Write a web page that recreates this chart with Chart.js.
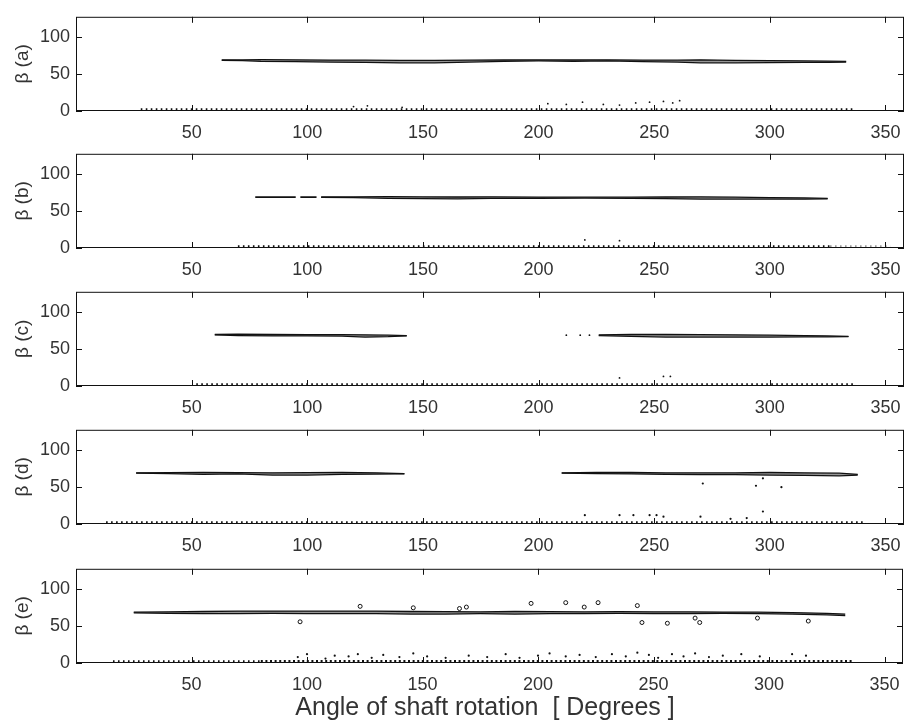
<!DOCTYPE html>
<html>
<head>
<meta charset="utf-8">
<script src="https://cdn.jsdelivr.net/npm/chart.js@4.4.1/dist/chart.umd.min.js"></script>
<style>
  body { margin: 0; background: #fff; }
  #wrap { position: relative; width: 908px; height: 728px; }
  #wrap canvas { position: absolute; left: 0; }
  #xTitle {
    position: absolute; left: 0; width: 970px; top: 692px;
    text-align: center; font: 25px "Liberation Sans", Arial, sans-serif; color: #333;
  }
</style>
</head>
<body>
<div id="wrap">
  <canvas id="pa" width="908" height="138" style="top:0px"></canvas>
  <canvas id="pb" width="908" height="138" style="top:137px"></canvas>
  <canvas id="pc" width="908" height="138" style="top:275px"></canvas>
  <canvas id="pd" width="908" height="138" style="top:413px"></canvas>
  <canvas id="pe" width="908" height="138" style="top:552px"></canvas>
  <div id="xTitle">Angle of shaft rotation&nbsp; [ Degrees ]</div>
</div>
<script>
// axis setup shared by all five panels
const xTicks = [50, 100, 150, 200, 250, 300, 350];
const yTicks = [0, 50, 100];
const xMax = 358;
const yMax = 128;

// panel (a)
const angA = [63, 72, 80, 95, 110, 125, 140, 155, 170, 185, 200, 215, 230, 245, 260, 270, 285, 300, 315, 325, 333];
const upA = [69.5, 69.5, 69.8, 69.5, 69.2, 69, 68.8, 68.8, 69, 69.3, 69.5, 69.3, 69.5, 69.2, 69, 69.5, 68.8, 68.5, 68, 67.8, 67.3];
const loA = [68.8, 68.5, 67.5, 67, 66.5, 66, 65.5, 65.5, 66.5, 67.5, 68, 67.5, 68, 67, 66.5, 65.5, 65.5, 65.8, 66, 66, 66.5];
const rippleA = [28, 336];
const dotsAx = [120, 126, 141, 204, 212, 219, 228, 235, 242, 248, 254, 258, 261];
const dotsAy = [6, 7, 5, 10, 9, 12, 9, 8, 11, 12, 13, 11, 14];

// panel (b)
const dashB = [[77.5, 95], [97, 104]];
const dashBy = 69;
const angB = [106, 120, 135, 150, 165, 180, 200, 220, 240, 255, 270, 285, 300, 315, 325];
const upB = [69.3, 69.5, 69.8, 69.5, 69.3, 69.5, 69.2, 69, 69, 69.3, 69.5, 69, 68.5, 68, 67.5];
const loB = [68.8, 68.5, 67.5, 67, 66.8, 67.5, 67.5, 67.8, 67.5, 67, 66.5, 66.5, 66.5, 66.3, 66.8];
const rippleB = [70, 326];
const tailB = [326, 352];
const dotsBx = [220, 235];
const dotsBy = [11, 10];

// panel (c)
const angC1 = [60, 70, 85, 100, 115, 125, 135, 143];
const upC1 = [70, 70.3, 70, 69.8, 69.8, 69.5, 69, 68.5];
const loC1 = [69.5, 68.5, 68, 68, 67.8, 66.5, 67, 68];
const angC2 = [226, 240, 255, 270, 285, 300, 315, 325, 334];
const upC2 = [69.5, 70, 70, 69.8, 69.5, 69, 68.5, 68, 67.5];
const loC2 = [68.5, 67.5, 66.5, 66.5, 66.5, 66.5, 66.8, 66.8, 67];
const rippleC = [52, 337];
const dotsCx = [212, 218, 222, 235, 254, 257];
const dotsCy = [69, 69, 69, 11, 13, 13];

// panel (d)
const angD1 = [26, 40, 55, 70, 85, 100, 115, 130, 142];
const upD1 = [69.5, 69.8, 70, 69.8, 69.5, 69.8, 70, 69.5, 68.5];
const loD1 = [69, 68.5, 67.5, 68, 66.5, 66.5, 67.5, 67.8, 68];
const angD2 = [210, 225, 240, 255, 270, 285, 300, 315, 330, 338];
const upD2 = [69.5, 70, 70, 69.5, 69.5, 69.5, 70, 69.5, 69, 67.5];
const loD2 = [69, 68.5, 68, 67.5, 67, 67, 66.5, 66, 65.5, 66.5];
const rippleD = [13, 341];
const dotsDx = [271, 294, 297, 305, 220, 235, 241, 248, 251, 254, 270, 283, 290, 297];
const dotsDy = [55, 52, 62, 50, 12, 12, 12, 12, 12, 10, 10, 7, 8, 17];

// panel (e)
const angE = [25, 40, 55, 70, 85, 100, 115, 130, 145, 160, 175, 190, 205, 220, 235, 250, 265, 280, 295, 310, 325, 333];
const upE = [69, 69.5, 70, 70.5, 70.5, 70.5, 70.5, 70.5, 70, 69.8, 69.5, 70, 69.8, 69.5, 69.8, 69.5, 69.5, 69.2, 69, 68.5, 67.5, 66.5];
const loE = [68, 67.5, 67, 67, 67.5, 67, 67, 67, 66.5, 66.5, 67, 66.5, 67, 67, 67.5, 67, 67, 67.3, 67, 66.5, 65.5, 64.5];
const rippleE1 = [16, 80];
const rippleE2 = [80, 336];
const islandEx = [123, 146, 166, 169, 197, 212, 220, 226, 243, 97, 245, 256, 268, 270, 295, 317];
const islandEy = [77, 75, 74, 76, 81, 82, 76, 82, 78, 56, 55, 54, 61, 55, 61, 57];
const dotsEx = [96, 100, 108, 112, 118, 122, 128, 133, 140, 146, 152, 160, 170, 178, 186, 192, 200, 205, 212, 218, 225, 232, 238, 243, 248, 252, 258, 263, 268, 274, 280, 288, 296, 310, 316];
const dotsEy = [8, 12, 6, 10, 9, 12, 7, 11, 8, 13, 9, 7, 10, 8, 12, 7, 10, 13, 9, 11, 8, 12, 9, 14, 11, 7, 12, 9, 13, 8, 10, 12, 9, 12, 10];

const FONT = '"Liberation Sans", Arial, sans-serif';
const INK = '#111';

const pts = (xs, ys) => xs.map((x, i) => ({ x, y: ys[i] }));

function band(angles, upper, lower) {
  return [
    { data: pts(angles, upper), borderColor: INK, borderWidth: 1.3, pointRadius: 0, fill: false },
    { data: pts(angles, lower), borderColor: INK, borderWidth: 1.3, pointRadius: 0,
      fill: '-1', backgroundColor: 'rgba(80,80,80,0.6)' }
  ];
}

// the little triangular ripple along the zero line
function ripple(range, heavy, color) {
  return {
    data: [{ x: range[0], y: 1.6 }, { x: range[1], y: 1.6 }],
    borderColor: color || INK, borderWidth: heavy ? 3.6 : 3, borderDash: heavy ? [2, 2.6] : [1.6, 3.4],
    pointRadius: 0, fill: false
  };
}

function dots(xs, ys, r) {
  return { data: pts(xs, ys), showLine: false, pointRadius: r || 0.9,
    pointBackgroundColor: INK, pointBorderWidth: 0 };
}

function dash(range, y) {
  return { data: [{ x: range[0], y }, { x: range[1], y }], borderColor: INK,
    borderWidth: 1.8, pointRadius: 0, fill: false };
}

// box frame with inward ticks on all four sides
const frame = {
  id: 'frame',
  afterDraw(chart) {
    const { ctx, chartArea: a, scales: { x, y } } = chart;
    ctx.save();
    ctx.strokeStyle = INK;
    ctx.lineWidth = 1;
    ctx.strokeRect(a.left + 0.5, a.top + 0.5, a.width - 1, a.height - 1);
    ctx.beginPath();
    x.ticks.forEach(t => {
      const px = Math.round(x.getPixelForValue(t.value)) + 0.5;
      ctx.moveTo(px, a.top); ctx.lineTo(px, a.top + 6);
      ctx.moveTo(px, a.bottom); ctx.lineTo(px, a.bottom - 6);
    });
    y.ticks.forEach(t => {
      const py = Math.round(y.getPixelForValue(t.value)) + 0.5;
      ctx.moveTo(a.left, py); ctx.lineTo(a.left + 6, py);
      ctx.moveTo(a.right, py); ctx.lineTo(a.right - 6, py);
    });
    ctx.stroke();
    ctx.restore();
  }
};

function panel(id, label, datasets) {
  new Chart(document.getElementById(id), {
    type: 'line',
    data: { datasets },
    plugins: [frame],
    options: {
      responsive: false,
      animation: false,
      devicePixelRatio: 1,
      layout: { padding: { top: 8, right: 3, left: 0, bottom: 0 } },
      plugins: { legend: { display: false }, tooltip: { enabled: false } },
      elements: { line: { tension: 0 } },
      scales: {
        x: {
          type: 'linear', min: 0, max: xMax,
          afterBuildTicks: s => { s.ticks = xTicks.map(v => ({ value: v })); },
          afterFit: s => { s.height = 27; s.paddingLeft = 0; s.paddingRight = 0; },
          grid: { display: false, drawTicks: false },
          border: { display: false },
          ticks: { padding: 11, color: '#333', font: { family: FONT, size: 18 } }
        },
        y: {
          type: 'linear', min: 0, max: yMax,
          afterBuildTicks: s => { s.ticks = yTicks.map(v => ({ value: v })); },
          afterFit: s => { s.width = 76; },
          grid: { display: false, drawTicks: false },
          border: { display: false },
          ticks: { padding: 6, color: '#333', font: { family: FONT, size: 18 } },
          title: { display: true, text: label, color: '#333',
            font: { family: FONT, size: 19 }, padding: { top: 11, bottom: 0 } }
        }
      }
    }
  });
}

panel('pa', 'β (a)', [
  ...band(angA, upA, loA),
  ripple(rippleA), dots(dotsAx, dotsAy)
]);

panel('pb', 'β (b)', [
  ...dashB.map(r => dash(r, dashBy)),
  ...band(angB, upB, loB),
  ripple(rippleB), ripple(tailB, false, '#999'), dots(dotsBx, dotsBy)
]);

panel('pc', 'β (c)', [
  ...band(angC1, upC1, loC1),
  ...band(angC2, upC2, loC2),
  ripple(rippleC), dots(dotsCx, dotsCy)
]);

panel('pd', 'β (d)', [
  ...band(angD1, upD1, loD1),
  ...band(angD2, upD2, loD2),
  ripple(rippleD), dots(dotsDx, dotsDy, 1.1)
]);

panel('pe', 'β (e)', [
  ...band(angE, upE, loE),
  ripple(rippleE1), ripple(rippleE2, true), dots(dotsEx, dotsEy, 1.1),
  { data: pts(islandEx, islandEy), showLine: false, pointStyle: 'circle',
    pointRadius: 2, pointBorderWidth: 1, pointBorderColor: INK, pointBackgroundColor: '#fff' }
]);
</script>
</body>
</html>
